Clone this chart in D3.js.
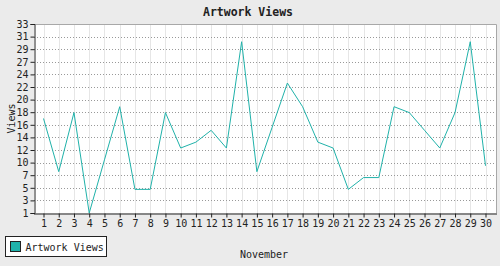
<!DOCTYPE html>
<html>
<head>
<meta charset="utf-8">
<script src="https://cdn.jsdelivr.net/npm/d3@7"></script>
<style>
  body { margin: 0; background: #ebebeb; }
  svg { display: block; }
  text { font-family: "DejaVu Sans Mono", monospace; fill: #222; }
</style>
</head>
<body>
<script>
// data
const days = ['1','2','3','4','5','6','7','8','9','10','11','12','13','14','15',
              '16','17','18','19','20','21','22','23','24','25','26','27','28','29','30'];
const views = [17, 8, 18, 1, 10, 19, 5, 5, 18, 12, 13, 15, 12, 30, 8,
               15.5, 23, 19, 13, 12, 5, 7, 7, 19, 18, 15, 12, 18, 30, 9];
const yTickLabels = ['1','3','5','7','10','12','14','16','18','20','22','24','27','29','31','33'];
const seriesName = 'Artwork Views';

const width = 500, height = 266;
const plot = {left: 34, top: 24, right: 496, bottom: 213};
const lineColor = '#20b2aa';

const svg = d3.select('body').append('svg').attr('width', width).attr('height', height);
svg.append('rect').attr('width', width).attr('height', height).attr('fill', '#ebebeb');

// plot background
svg.append('rect')
   .attr('x', plot.left).attr('y', plot.top)
   .attr('width', plot.right - plot.left).attr('height', plot.bottom - plot.top)
   .attr('fill', '#fff');

const x = d3.scalePoint().domain(days).range([plot.left + 9.5, plot.right - 10.5]);
const y = d3.scaleLinear().domain([1, 33]).range([plot.bottom, plot.top]);
// evenly spaced ticks, labels are the rounded values
const yTicks = yTickLabels.map((l, i) => 1 + i * 32 / (yTickLabels.length - 1));

//vertical grid
svg.append('g').selectAll('line').data(days).join('line')
   .attr('x1', d => Math.round(x(d)) + 0.5).attr('x2', d => Math.round(x(d)) + 0.5)
   .attr('y1', plot.top).attr('y2', plot.bottom)
   .attr('stroke', '#e6e6e6').attr('stroke-width', 1);

//horizontal dotted grid
svg.append('g').selectAll('line').data(yTicks.slice(1, -1)).join('line')
   .attr('x1', plot.left).attr('x2', plot.right)
   .attr('y1', d => Math.round(y(d)) + 0.5).attr('y2', d => Math.round(y(d)) + 0.5)
   .attr('stroke', '#999').attr('stroke-dasharray', '1,2');

//border top + right
svg.append('path')
   .attr('d', `M${plot.left},${plot.top + 0.5}H${plot.right + 0.5}V${plot.bottom}`)
   .attr('fill', 'none').attr('stroke', '#a8a8a8');

//line
const line = d3.line().x((d, i) => x(days[i])).y(d => y(d));
svg.append('path').datum(views)
   .attr('d', line)
   .attr('fill', 'none').attr('stroke', lineColor).attr('stroke-width', 1);

//y axis
const yAxis = d3.axisLeft(y).tickValues(yTicks).tickFormat((d, i) => yTickLabels[i])
   .tickSize(4).tickPadding(2);
const gy = svg.append('g').attr('transform', `translate(${plot.left + 0.5},0)`).call(yAxis);
gy.select('.domain').attr('stroke', '#222');
gy.selectAll('.tick line').attr('stroke', '#222');
gy.selectAll('text').attr('font-size', 10).attr('font-family', 'DejaVu Sans Mono').attr('fill', '#222');

//x axis
const xAxis = d3.axisBottom(x).tickSize(4).tickSizeOuter(0).tickPadding(2);
const gx = svg.append('g').attr('transform', `translate(0,${plot.bottom + 0.5})`).call(xAxis);
gx.select('.domain').attr('stroke', '#222').attr('d', `M${plot.left},0.5H${plot.right + 1}`);
gx.selectAll('.tick line').attr('stroke', '#222');
gx.selectAll('text').attr('font-size', 10).attr('font-family', 'DejaVu Sans Mono').attr('fill', '#222');

//titles
svg.append('text').attr('x', 248).attr('y', 16).attr('text-anchor', 'middle')
   .attr('font-size', 11.5).attr('font-weight', 'bold').text('Artwork Views');
svg.append('text').attr('x', 264).attr('y', 258).attr('text-anchor', 'middle')
   .attr('font-size', 10).text('November');
svg.append('text').attr('transform', `translate(15,${(plot.top + plot.bottom) / 2}) rotate(-90)`)
   .attr('text-anchor', 'middle').attr('font-size', 10).text('Views');

//legend
const lg = svg.append('g').attr('transform', 'translate(5.5,236.5)');
lg.append('rect').attr('width', 101).attr('height', 20).attr('fill', '#fff').attr('stroke', '#222');
lg.append('rect').attr('x', 5).attr('y', 5).attr('width', 10).attr('height', 10)
  .attr('fill', lineColor).attr('stroke', '#222');
lg.append('text').attr('x', 20).attr('y', 14).attr('font-size', 10).text(seriesName);
</script>
</body>
</html>
